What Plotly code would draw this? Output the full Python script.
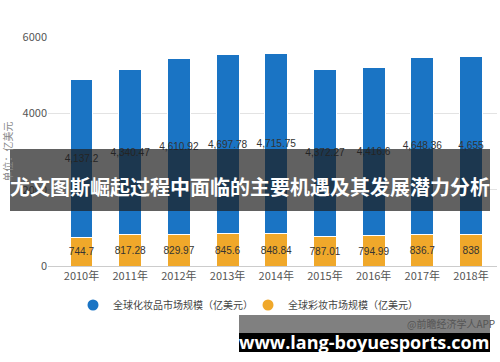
import plotly.graph_objects as go

years = ["2010年", "2011年", "2012年", "2013年", "2014年", "2015年", "2016年", "2017年", "2018年"]
makeup = [744.7, 817.28, 829.97, 845.6, 848.84, 787.01, 794.99, 836.7, 838]
other = [4137.2, 4340.47, 4610.92, 4697.78, 4715.75, 4372.27, 4416.6, 4648.36, 4655]
makeup_labels = ["744.7", "817.28", "829.97", "845.6", "848.84", "787.01", "794.99", "836.7", "838"]
other_labels = ["4,137.2", "4,340.47", "4,610.92", "4,697.78", "4,715.75", "4,372.27", "4,416.6", "4,648.36", "4,655"]
ytick_vals = [0, 2000, 4000, 6000]

xpos = list(range(len(years)))
font_fam = "Noto Sans CJK SC, Noto Sans, sans-serif"
blue = "#1a74c4"
orange = "#f0a82a"
label_font = dict(color="#333333", size=11, family="Liberation Sans, Arial, sans-serif")

fig = go.Figure()
fig.add_trace(go.Bar(
    x=xpos, y=makeup, name="全球彩妆市场规模（亿美元）", showlegend=False,
    marker=dict(color=orange, line=dict(color="white", width=1)),
    width=0.47, text=makeup_labels, textposition="inside", insidetextanchor="middle",
    textfont=label_font, textangle=0,
))
fig.add_trace(go.Bar(
    x=xpos, y=other, name="全球化妆品市场规模（亿美元）", showlegend=False,
    marker=dict(color=blue, line=dict(color="white", width=1)),
    width=0.47, text=other_labels, textposition="inside", insidetextanchor="middle",
    textfont=label_font, textangle=0,
))
# legend entries with round symbols, one legend each for exact placement
fig.add_trace(go.Scatter(x=[None], y=[None], mode="markers", name="全球化妆品市场规模（亿美元）",
                         marker=dict(color=blue, size=11, symbol="circle"), legend="legend"))
fig.add_trace(go.Scatter(x=[None], y=[None], mode="markers", name="全球彩妆市场规模（亿美元）",
                         marker=dict(color=orange, size=11, symbol="circle"), legend="legend2"))

leg_common = dict(orientation="h", xanchor="left", yanchor="middle", y=(266 - 305) / 229,
                  font=dict(size=10, color="#444444"), itemwidth=30,
                  bgcolor="rgba(0,0,0,0)")

fig.update_layout(
    width=500, height=362, barmode="stack",
    margin=dict(l=48, r=3, t=37, b=96),
    paper_bgcolor="white", plot_bgcolor="white",
    font=dict(family=font_fam, color="#555555", size=11),
    uniformtext=dict(minsize=9, mode="show"),
    showlegend=True,
    legend=dict(x=(73 - 48) / 449, **leg_common),
    legend2=dict(x=(248 - 48) / 449, **leg_common),
    xaxis=dict(tickmode="array", tickvals=xpos, ticktext=years, range=[-0.688, 8.534],
               showgrid=False, showline=True, linecolor="#cccccc", ticks="",
               tickfont=dict(size=11, color="#555555")),
    yaxis=dict(range=[0, 6010], tickvals=ytick_vals, ticktext=[str(v) for v in ytick_vals],
               showgrid=True, gridcolor="#e3e3e3", zeroline=False, showline=False,
               tickfont=dict(size=11, color="#555555"),
               title=dict(text="单位：亿美元", font=dict(size=10, color="#888888"), standoff=8)),
)

# dark title banner
fig.add_shape(type="rect", xref="paper", yref="paper", layer="above",
              x0=(10 - 48) / 449, x1=(490 - 48) / 449,
              y0=(266 - 211) / 229, y1=(266 - 149) / 229,
              fillcolor="rgba(30,30,30,0.70)", line=dict(width=0))
fig.add_annotation(xref="paper", yref="paper", x=(250 - 48) / 449, y=(266 - 186) / 229,
                   text="<b>尤文图斯崛起过程中面临的主要机遇及其发展潜力分析</b>",
                   showarrow=False, font=dict(size=20, color="white", family=font_fam),
                   xanchor="center", yanchor="middle")

# source text and bottom banners
fig.add_annotation(xref="paper", yref="paper", x=(497 - 48) / 449, y=(266 - 323) / 229,
                   text="@前瞻经济学人APP", showarrow=False,
                   font=dict(size=10, color="#555555", family=font_fam),
                   xanchor="right", yanchor="middle")
fig.add_shape(type="rect", xref="paper", yref="paper", layer="above",
              x0=(239 - 48) / 449, x1=(490 - 48) / 449,
              y0=(266 - 333) / 229, y1=(266 - 315) / 229,
              fillcolor="rgba(60,60,60,0.65)", line=dict(width=0))
fig.add_shape(type="rect", xref="paper", yref="paper", layer="above",
              x0=(239 - 48) / 449, x1=(490 - 48) / 449,
              y0=(266 - 352) / 229, y1=(266 - 333) / 229,
              fillcolor="black", line=dict(width=0))
fig.add_annotation(xref="paper", yref="paper", x=(364 - 48) / 449, y=(266 - 342) / 229,
                   text="<b>www.lang-boyuesports.com</b>", showarrow=False,
                   font=dict(size=18, color="white", family="Open Sans, DejaVu Sans, sans-serif"),
                   xanchor="center", yanchor="middle")

fig.write_html("out.html")
